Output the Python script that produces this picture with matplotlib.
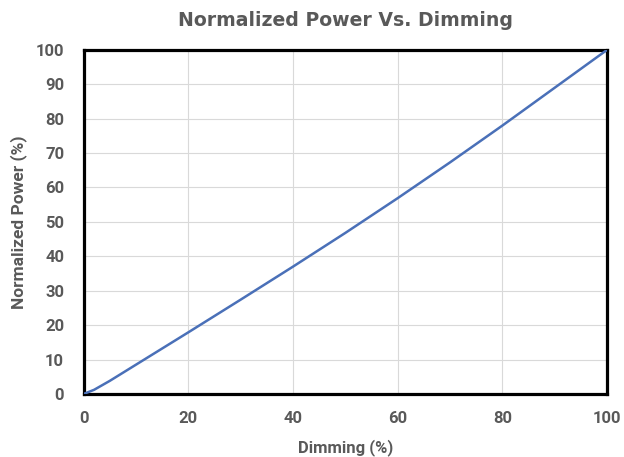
import matplotlib
matplotlib.use("Agg")
import matplotlib.pyplot as plt
from matplotlib import font_manager as fm

dimming = [0, 2, 5, 10, 15, 20, 30, 40, 50, 60, 70, 80, 90, 100]
power = [0, 1.2, 3.8, 8.5, 13.2, 17.9, 27.4, 37.0, 46.8, 56.9, 67.3, 78.0, 89.0, 100]
x_ticks = [0, 20, 40, 60, 80, 100]
y_ticks = [0, 10, 20, 30, 40, 50, 60, 70, 80, 90, 100]

gray = "#595959"
tick_fp = fm.FontProperties(family="Roboto", weight="bold", size=12)
xl_fp = fm.FontProperties(family="Roboto", weight="bold", size=12)
yl_fp = fm.FontProperties(family="Roboto", weight="bold", size=12.5)

fig = plt.figure(figsize=(6.24, 4.57), dpi=100)
ax = fig.add_axes([0.134, 0.138, 0.839, 0.753])
ax.plot(dimming, power, color="#4a70b8", lw=1.8, zorder=3)
ax.set_xlim(0, 100)
ax.set_ylim(0, 100)
ax.set_xticks(x_ticks)
ax.set_yticks(y_ticks)
ax.grid(True, color="#d9d9d9", lw=0.8)
ax.set_axisbelow(True)
for s in ax.spines.values():
    s.set_linewidth(2.3)
    s.set_color("black")
ax.tick_params(length=0, labelcolor=gray)
ax.tick_params(axis="y", pad=14)
ax.tick_params(axis="x", pad=12)
for lab in ax.get_xticklabels() + ax.get_yticklabels():
    lab.set_fontproperties(tick_fp)
ax.set_xlabel("Dimming (%)", color=gray, fontproperties=xl_fp, labelpad=10)
ax.set_ylabel("Normalized Power (%)", color=gray, fontproperties=yl_fp, labelpad=6)
ax.set_title("Normalized Power Vs. Dimming", fontsize=13.6, color=gray,
             fontweight="bold", pad=17)
fig.savefig("out.png", dpi=100)
